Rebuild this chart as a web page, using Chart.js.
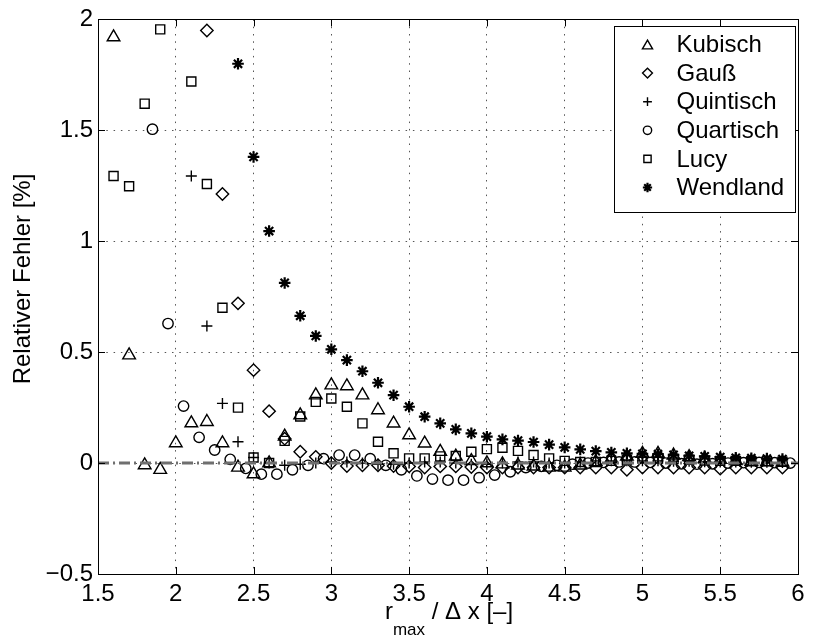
<!DOCTYPE html>
<html>
<head>
<meta charset="utf-8">
<script src="https://cdn.jsdelivr.net/npm/chart.js@4/dist/chart.umd.min.js"></script>
<style>
  html, body { margin: 0; padding: 0; background: #fff; }
  #wrap { width: 813px; height: 643px; }
</style>
</head>
<body>
<div id="wrap"><canvas id="errChart" width="813" height="643"></canvas></div>
<script>
// r_max / dx values (all kernels except Quartisch)
const xSteps = [1.6, 1.7, 1.8, 1.9, 2.0, 2.1, 2.2, 2.3, 2.4, 2.5,
    2.6, 2.7, 2.8, 2.9, 3.0, 3.1, 3.2, 3.3, 3.4, 3.5,
    3.6, 3.7, 3.8, 3.9, 4.0, 4.1, 4.2, 4.3, 4.4, 4.5,
    4.6, 4.7, 4.8, 4.9, 5.0, 5.1, 5.2, 5.3, 5.4, 5.5,
    5.6, 5.7, 5.8, 5.9];
// Quartisch was sampled half a step later
const xStepsQuart = [1.85, 1.95, 2.05, 2.15, 2.25, 2.35, 2.45, 2.55, 2.65, 2.75,
    2.85, 2.95, 3.05, 3.15, 3.25, 3.35, 3.45, 3.55, 3.65, 3.75,
    3.85, 3.95, 4.05, 4.15, 4.25, 4.35, 4.45, 4.55, 4.65, 4.75,
    4.85, 4.95, 5.05, 5.15, 5.25, 5.35, 5.45, 5.55, 5.65, 5.75,
    5.85, 5.95];

// relative error in %, null = outside the plotted range
const kubisch = [1.92, 0.486, -0.009, -0.03, 0.09, 0.18, 0.186, 0.09, -0.02, -0.05,
    0.0, 0.12, 0.216, 0.306, 0.351, 0.347, 0.306, 0.239, 0.179, 0.126,
    0.089, 0.051, 0.03, 0.01, 0.0, -0.005, -0.01, -0.015, -0.02, -0.02,
    -0.01, 0.005, 0.02, 0.03, 0.042, 0.042, 0.035, 0.028, 0.02, 0.015,
    0.01, 0.007, 0.005, 0.003];
const gauss = [null, null, null, null, null, null, 1.95, 1.213, 0.72, 0.419,
    0.234, 0.11, 0.051, 0.028, 0.0, -0.013, -0.01, -0.01, -0.013, -0.015,
    -0.02, -0.015, -0.015, -0.018, -0.02, -0.02, -0.02, -0.02, -0.02, -0.02,
    -0.02, -0.02, -0.02, -0.03, -0.02, -0.02, -0.02, -0.02, -0.02, -0.025,
    -0.02, -0.02, -0.02, -0.02];
const quintisch = [null, null, null, null, null, 1.294, 0.618, 0.269, 0.096, 0.025,
    0.0, -0.01, -0.005, 0.0, 0.005, 0.005, 0.0, -0.005, -0.005, 0.0,
    0.005, 0.005, 0.0, -0.005, -0.005, 0.0, 0.005, 0.005, 0.0, 0.0,
    0.005, 0.01, 0.01, 0.01, 0.01, 0.01, 0.008, 0.008, 0.006, 0.005,
    0.005, 0.004, 0.004, 0.003];
const quartisch = [1.505, 0.629, 0.257, 0.116, 0.059, 0.017, -0.024, -0.05, -0.05, -0.03,
    -0.01, 0.02, 0.036, 0.036, 0.02, -0.01, -0.03, -0.058, -0.072, -0.077,
    -0.077, -0.066, -0.054, -0.039, -0.02, -0.015, -0.01, -0.005, 0.0, 0.003,
    0.005, 0.005, 0.003, 0.0, -0.003, -0.005, -0.003, 0.0, 0.002, 0.003,
    0.002, 0.0];
const lucy = [1.294, 1.248, 1.62, 1.955, null, 1.72, 1.258, 0.70, 0.25, 0.025,
    0.0, 0.10, 0.21, 0.276, 0.291, 0.254, 0.179, 0.096, 0.044, 0.021,
    0.021, 0.03, 0.032, 0.051, 0.063, 0.069, 0.055, 0.036, 0.021, 0.01,
    0.005, 0.005, 0.01, 0.015, 0.02, 0.02, 0.018, 0.015, 0.012, 0.01,
    0.01, 0.008, 0.008, 0.006];
const wendland = [null, null, null, null, null, null, null, null, 1.80, 1.38,
    1.046, 0.812, 0.664, 0.573, 0.513, 0.464, 0.414, 0.362, 0.306, 0.254,
    0.209, 0.179, 0.152, 0.134, 0.119, 0.107, 0.101, 0.095, 0.083, 0.071,
    0.062, 0.054, 0.048, 0.044, 0.042, 0.04, 0.037, 0.033, 0.03, 0.027,
    0.024, 0.022, 0.02, 0.018];

// reference line at zero
const zeroLineX = [1.5, 6];
const zeroLineY = [0, 0];

const xTickMin = 1.5, xTickMax = 6, xTickStep = 0.5;
const yTickMin = -0.5, yTickMax = 2, yTickStep = 0.5;

const FONT = '"Liberation Sans", Arial, Helvetica, sans-serif';

function toPoints(xs, ys) {
    const pts = [];
    xs.forEach((x, i) => {
        if (ys[i] !== null) pts.push({ x: x, y: ys[i] });
    });
    return pts;
}

const series = [
    { label: 'Kubisch', x: xSteps, y: kubisch, style: 'triangle', radius: 7.3, width: 1.4 },
    { label: 'Gauß', x: xSteps, y: gauss, style: 'rectRot', radius: 6.2, width: 1.4 },
    { label: 'Quintisch', x: xSteps, y: quintisch, style: 'cross', radius: 5.5, width: 1.4 },
    { label: 'Quartisch', x: xStepsQuart, y: quartisch, style: 'circle', radius: 5.2, width: 1.4 },
    { label: 'Lucy', x: xSteps, y: lucy, style: 'rect', radius: 6.4, width: 1.4 },
    { label: 'Wendland', x: xSteps, y: wendland, style: 'star', radius: 5.8, width: 2.2 }
];

// inner tick marks + full box, like a MATLAB axes
const axesBoxPlugin = {
    id: 'axesBox',
    afterDatasetsDraw(chart) {
        const { ctx, chartArea: a, scales } = chart;
        const tickLen = 7;
        ctx.save();
        ctx.strokeStyle = '#000';
        ctx.lineWidth = 1;
        ctx.beginPath();
        scales.x.ticks.forEach(t => {
            const px = Math.round(scales.x.getPixelForValue(t.value)) + 0.5;
            ctx.moveTo(px, a.bottom); ctx.lineTo(px, a.bottom - tickLen);
            ctx.moveTo(px, a.top); ctx.lineTo(px, a.top + tickLen);
        });
        scales.y.ticks.forEach(t => {
            const py = Math.round(scales.y.getPixelForValue(t.value)) + 0.5;
            ctx.moveTo(a.left, py); ctx.lineTo(a.left + tickLen, py);
            ctx.moveTo(a.right, py); ctx.lineTo(a.right - tickLen, py);
        });
        ctx.stroke();
        ctx.strokeRect(Math.round(a.left) + 0.5, Math.round(a.top) + 0.5,
            Math.round(a.right - a.left), Math.round(a.bottom - a.top));
        ctx.restore();
    }
};

// axis titles (x title needs a subscript)
const axisTitlePlugin = {
    id: 'axisTitles',
    afterDraw(chart) {
        const { ctx, chartArea: a } = chart;
        ctx.save();
        ctx.fillStyle = '#000';
        ctx.textBaseline = 'alphabetic';

        const mainFont = '24px ' + FONT;
        const subFont = '17px ' + FONT;
        const partR = 'r', partSub = 'max', partRest = ' / \u0394 x [\u2013]';
        ctx.font = mainFont;
        const wR = ctx.measureText(partR).width;
        const wRest = ctx.measureText(partRest).width;
        ctx.font = subFont;
        const wSub = ctx.measureText(partSub).width;
        const total = wR + wSub + wRest;
        let x0 = (a.left + a.right) / 2 + 1 - total / 2;
        const base = 619;
        ctx.textAlign = 'left';
        ctx.font = mainFont;
        ctx.fillText(partR, x0, base);
        ctx.font = subFont;
        ctx.fillText(partSub, x0 + wR, base + 16);
        ctx.font = mainFont;
        ctx.fillText(partRest, x0 + wR + wSub, base);

        ctx.translate(23, 279);
        ctx.rotate(-Math.PI / 2);
        ctx.textAlign = 'center';
        ctx.textBaseline = 'middle';
        ctx.font = mainFont;
        ctx.fillText('Relativer Fehler [%]', 0, 0);
        ctx.restore();
    }
};

// boxed legend in the upper right corner
const boxLegendPlugin = {
    id: 'boxLegend',
    afterDraw(chart) {
        const { ctx, chartArea: a } = chart;
        const boxW = 181, boxH = 186;
        const bx = Math.round(a.right - 3 - boxW) + 0.5;
        const by = Math.round(a.top + 7) + 0.5;
        ctx.save();
        ctx.fillStyle = '#fff';
        ctx.fillRect(bx, by, boxW, boxH);
        ctx.strokeStyle = '#000';
        ctx.lineWidth = 1;
        ctx.strokeRect(bx, by, boxW, boxH);

        ctx.font = '24px ' + FONT;
        ctx.textAlign = 'left';
        ctx.textBaseline = 'middle';
        series.forEach((s, i) => {
            const cy = by + 18 + i * 28.6;
            ctx.strokeStyle = '#000';
            ctx.fillStyle = 'rgba(0,0,0,0)';
            ctx.lineWidth = s.width;
            Chart.helpers.drawPoint(ctx, {
                pointStyle: s.style,
                radius: s.radius * 0.8,
                borderWidth: s.width,
                rotation: 0
            }, bx + 33, cy + (s.style === 'triangle' ? 1.5 : 0));
            ctx.fillStyle = '#000';
            ctx.fillText(s.label, bx + 62, cy + 1);
        });
        ctx.restore();
    }
};

const datasets = [{
    label: 'zero',
    data: toPoints(zeroLineX, zeroLineY),
    showLine: true,
    borderColor: '#6f6f6f',
    borderWidth: 3,
    borderDash: [11, 4, 2, 4],
    pointRadius: 0,
    order: 0
}];
series.forEach(s => {
    datasets.push({
        label: s.label,
        data: toPoints(s.x, s.y),
        pointStyle: s.style,
        pointRadius: s.radius,
        pointBorderWidth: s.width,
        pointBorderColor: '#000',
        pointBackgroundColor: 'rgba(0,0,0,0)',
        borderColor: '#000',
        showLine: false,
        order: 1
    });
});

const minusSign = v => String(v).replace('-', '\u2212');

new Chart(document.getElementById('errChart'), {
    type: 'scatter',
    data: { datasets: datasets },
    options: {
        responsive: false,
        animation: false,
        layout: { autoPadding: false, padding: { top: 19, right: 15, left: 0, bottom: 0 } },
        plugins: {
            legend: { display: false },
            tooltip: { enabled: false }
        },
        scales: {
            x: {
                type: 'linear',
                min: xTickMin,
                max: xTickMax,
                afterFit(scale) { scale.height = 69; },
                ticks: {
                    stepSize: xTickStep,
                    color: '#000',
                    padding: 6,
                    maxRotation: 0,
                    font: { family: FONT, size: 24 },
                    callback: v => minusSign(v)
                },
                grid: { color: '#555', lineWidth: 1, drawTicks: false },
                border: { display: true, color: '#000', width: 1, dash: [1.5, 5.8] }
            },
            y: {
                type: 'linear',
                min: yTickMin,
                max: yTickMax,
                afterFit(scale) { scale.width = 98; },
                ticks: {
                    stepSize: yTickStep,
                    color: '#000',
                    padding: 5,
                    font: { family: FONT, size: 24 },
                    callback: v => minusSign(v)
                },
                grid: { color: '#555', lineWidth: 1, drawTicks: false },
                border: { display: true, color: '#000', width: 1, dash: [1.5, 5.8] }
            }
        }
    },
    plugins: [axesBoxPlugin, axisTitlePlugin, boxLegendPlugin]
});
</script>
</body>
</html>
